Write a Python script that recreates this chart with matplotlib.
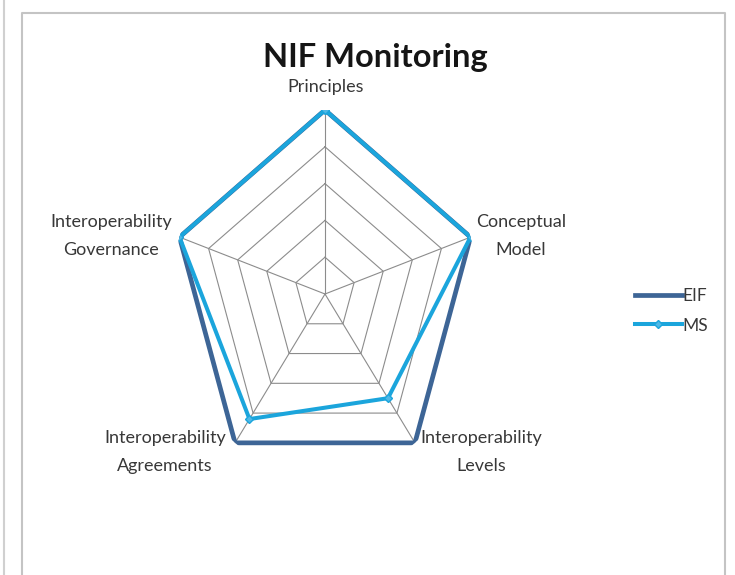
import numpy as np
import matplotlib
matplotlib.use("Agg")
import matplotlib.pyplot as plt
from matplotlib.lines import Line2D

plt.rcParams['font.family'] = ['Lato', 'DejaVu Sans']

categories = ["Principles", "Conceptual\nModel", "Interoperability\nLevels",
              "Interoperability\nAgreements", "Interoperability\nGovernance"]
series_names = ["EIF", "MS"]
eif_values = [5, 5, 5, 5, 5]
ms_values = [5, 5, 3.5, 4.2, 5]
ring_levels = [1, 2, 3, 4, 5]

W, H = 735, 575
fig = plt.figure(figsize=(W / 100, H / 100), dpi=100)
fig.patch.set_facecolor("white")

def fx(px):
    return px / W

def fy(py):
    return 1 - py / H

# frame lines
fig.add_artist(Line2D([fx(22), fx(22), fx(725), fx(725)], [0, fy(13), fy(13), 0],
                      color="#c4c4c4", lw=1.5))
fig.add_artist(Line2D([fx(4), fx(4)], [0, 1], color="#d0d0d0", lw=1.5))

cx, cy, rx, ry = 325, 294, 153, 184
ax = fig.add_axes([fx(cx - rx), fy(cy + ry), 2 * rx / W, 2 * ry / H], projection="polar")
ax.set_aspect("auto")
ax.set_theta_zero_location("N")
ax.set_theta_direction(-1)
ax.set_ylim(0, 5)
ax.grid(False)
ax.spines["polar"].set_visible(False)
ax.set_xticks([])
ax.set_yticks([])
ax.patch.set_alpha(0)

n = len(categories)
angles = np.linspace(0, 2 * np.pi, n, endpoint=False)
closed = np.concatenate([angles, angles[:1]])

for lv in ring_levels:
    ax.plot(closed, [lv] * (n + 1), color="#8c8c8c", lw=0.8, zorder=1)
for a in angles:
    ax.plot([a, a], [0, ring_levels[-1]], color="#8c8c8c", lw=0.8, zorder=1)

eif_c = eif_values + eif_values[:1]
ms_c = ms_values + ms_values[:1]
ax.plot(closed, eif_c, color="#3d6596", lw=3.4, zorder=3, label=series_names[0],
        solid_joinstyle="miter")
ax.plot(closed, ms_c, color="#1ba5dc", lw=2.9, zorder=4, marker="D", markersize=4,
        markerfacecolor="#4fb8e6", markeredgecolor="#1ba5dc", label=series_names[1],
        solid_joinstyle="miter")

# category labels
label_pos = [(326, 87), (521, 236), (481, 452), (165, 452), (111, 236)]
for lab, (px, py) in zip(categories, label_pos):
    fig.text(fx(px), fy(py), lab, ha="center", va="center", fontsize=13,
             color="#383838", linespacing=1.85)

fig.text(fx(375), fy(58), "NIF Monitoring", ha="center", va="center",
         fontsize=23.5, fontweight="bold", color="#151515")

leg = fig.legend(loc="center left", bbox_to_anchor=(fx(626), fy(311)), frameon=False,
                 fontsize=12.5, handlelength=2.7, handletextpad=0.05, labelspacing=0.75,
                 borderpad=0, labelcolor="#383838")

fig.savefig("out.png", dpi=100, facecolor="white")
